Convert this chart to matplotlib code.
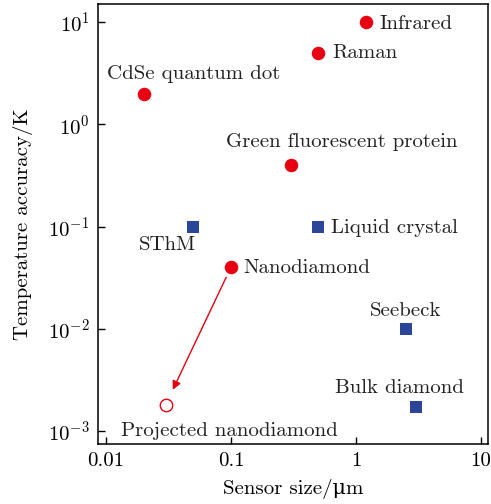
import matplotlib
matplotlib.use("Agg")
import matplotlib.pyplot as plt
from matplotlib.ticker import FixedLocator, FixedFormatter, NullLocator

plt.rcParams['font.family'] = ['cmr10', 'DejaVu Serif']
plt.rcParams['mathtext.fontset'] = 'cm'
plt.rcParams['axes.formatter.use_mathtext'] = True
plt.rcParams['font.size'] = 15

# red circles: measured methods
red_names = ["Infrared", "Raman", "CdSe quantum dot", "Green fluorescent protein", "Nanodiamond"]
red_x = [1.2, 0.5, 0.02, 0.3, 0.1]
red_y = [10, 5, 2, 0.4, 0.04]

# blue squares
blue_names = ["SThM", "Liquid crystal", "Seebeck", "Bulk diamond"]
blue_x = [0.05, 0.5, 2.5, 3.0]
blue_y = [0.1, 0.1, 0.01, 0.0017]

# projected value
proj_name = "Projected nanodiamond"
proj_x = 0.03
proj_y = 0.0018

x_ticks = [0.01, 0.1, 1, 10]
x_tick_labels = ["0.01", "0.1", "1", "10"]
y_ticks = [1e-3, 1e-2, 1e-1, 1, 10]

red = "#e60012"
blue = "#2b4599"

# label offsets (points) and alignment
red_offsets = [((10, -1.5), 'left', 'center'),
               ((10, -0.5), 'left', 'center'),
               ((36, 14), 'center', 'center'),
               ((37, 16.5), 'center', 'center'),
               ((9, -0.5), 'left', 'center')]
blue_offsets = [((-19, -13), 'center', 'center'),
                ((9, -1), 'left', 'center'),
                ((0, 12.5), 'center', 'center'),
                ((-11.5, 14), 'center', 'center')]

fig = plt.figure(figsize=(4.91, 5.04), dpi=100)
ax = fig.add_axes([0.1996, 0.119, 0.7943, 0.873])

ax.set_xscale('log')
ax.set_yscale('log')
ax.set_xlim(0.00863, 11.4)
ax.set_ylim(7.46e-4, 15)

ax.scatter(red_x, red_y, s=95, color=red, marker='o', linewidths=0, zorder=3)
ax.scatter(blue_x, blue_y, s=80, color=blue, marker='s', linewidths=0, zorder=3)
ax.scatter([proj_x], [proj_y], s=80, facecolors='white', edgecolors=red,
           marker='o', linewidths=1.0, zorder=3)

for name, x, y, (off, ha, va) in zip(red_names, red_x, red_y, red_offsets):
    ax.annotate(name, (x, y), xytext=off, textcoords='offset points',
                ha=ha, va=va, color='#222222')
for name, x, y, (off, ha, va) in zip(blue_names, blue_x, blue_y, blue_offsets):
    ax.annotate(name, (x, y), xytext=off, textcoords='offset points',
                ha=ha, va=va, color='#222222')
ax.annotate(proj_name, (proj_x, proj_y), xytext=(46, -19), textcoords='offset points',
            ha='center', va='center', color='#222222')

# arrow from nanodiamond to projected value
ax.annotate("", xy=(proj_x, proj_y), xytext=(red_x[4], red_y[4]),
            arrowprops=dict(arrowstyle='-|>', color=red, lw=1.0,
                            shrinkA=8, shrinkB=12, mutation_scale=13))

ax.xaxis.set_major_locator(FixedLocator(x_ticks))
ax.xaxis.set_major_formatter(FixedFormatter(x_tick_labels))
ax.xaxis.set_minor_locator(NullLocator())
ax.yaxis.set_major_locator(FixedLocator(y_ticks))
ax.yaxis.set_minor_locator(NullLocator())

ax.tick_params(direction='in', length=5, width=1, labelsize=15, pad=6)
for s in ax.spines.values():
    s.set_linewidth(1.1)

ax.set_xlabel("Sensor size/μm", labelpad=6)
ax.set_ylabel("Temperature accuracy/K", labelpad=11)

fig.savefig("out.png", dpi=100)
